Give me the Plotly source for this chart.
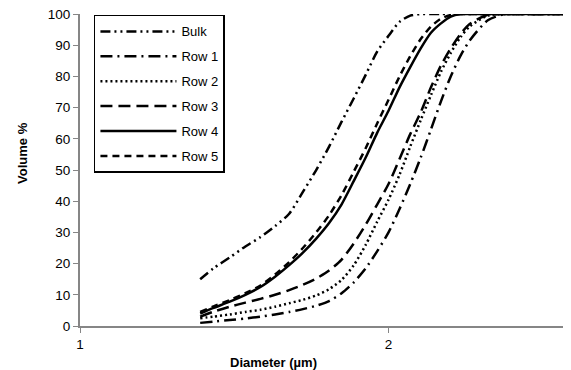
import plotly.graph_objects as go
import math

diameter = [1.31, 1.35, 1.4, 1.45, 1.5, 1.55, 1.6, 1.65, 1.7, 1.75, 1.8, 1.85, 1.9, 1.95,
            2.0, 2.05, 2.1, 2.15, 2.2, 2.25, 2.3, 2.35, 2.4, 2.5, 2.6, 2.8, 3.0]

bulk = [15, 18.5, 22, 25.5, 28.5, 32, 36, 43, 50, 57.5, 65.5, 73, 80.5, 88,
        93, 97.5, 99.5, 100, 100, 100, 100, 100, 100, 100, 100, 100, 100]
row1 = [1, 1.4, 1.9, 2.4, 3, 3.7, 4.5, 5.4, 6.5, 8, 10.5, 14, 18.5, 24,
        30, 37.5, 45.5, 54, 63, 72, 80, 86.5, 91.5, 98, 100, 100, 100]
row2 = [2.5, 3, 3.7, 4.5, 5.2, 6.2, 7.3, 8.4, 9.8, 11.8, 14.8, 19.5, 26, 33.5,
        40.5, 48.5, 57.5, 66, 74, 81.5, 87.5, 92.5, 96, 99.5, 100, 100, 100]
row3 = [3, 4.6, 6.2, 7.5, 8.7, 10, 11.5, 13.2, 15.2, 17.8, 21.3, 26.5, 32.5, 39,
        45.5, 53.5, 61.5, 68.5, 76.5, 83.5, 89, 93.5, 96.8, 99.8, 100, 100, 100]
row4 = [4, 5.8, 7.8, 10, 12.5, 15.8, 19.5, 23.5, 28, 33, 39, 46.5, 54, 62,
        69, 76.5, 83, 89, 94, 97, 99.2, 100, 100, 100, 100, 100, 100]
row5 = [4.5, 6.3, 8.3, 10.5, 13, 16.5, 20.5, 25, 30, 35.5, 42, 49.5, 57, 65,
        72.5, 80, 86.5, 92, 96, 98.5, 99.7, 100, 100, 100, 100, 100, 100]

series_names = ["Bulk", "Row 1", "Row 2", "Row 3", "Row 4", "Row 5"]
series_values = [bulk, row1, row2, row3, row4, row5]
dashes = ["10px,4px,2px,4px,2px,4px", "12px,5px,2px,5px", "2px,3px", "12px,6px", "solid", "7px,5px"]

x_tickvals = [1, 2]
x_ticktext = ["1", "2"]
y_tickvals = [0, 10, 20, 30, 40, 50, 60, 70, 80, 90, 100]

fig = go.Figure()
for name, vals, dash in zip(series_names, series_values, dashes):
    fig.add_trace(go.Scatter(x=diameter, y=vals, mode="lines", name=name,
                             legendgroup=name,
                             line=dict(color="black", width=2.5, dash=dash,
                                       shape="spline", smoothing=0.7)))

font = "Liberation Sans, Arial, sans-serif"
# page body has an 8px default margin, so the figure is sized 8px smaller
fig.update_layout(
    width=563, height=362,
    margin=dict(l=72, r=2, t=6, b=44),
    paper_bgcolor="white", plot_bgcolor="white",
    font=dict(family=font, size=13, color="black"),
    showlegend=True,
    legend=dict(x=0.0285, y=0.997, xanchor="left", yanchor="top",
                bordercolor="black", borderwidth=1.5, bgcolor="white",
                font=dict(size=13), tracegroupgap=5, itemwidth=76),
    xaxis=dict(type="log", range=[0, math.log10(3.0)], tickvals=x_tickvals, ticktext=x_ticktext,
               showline=True, linecolor="#868686", linewidth=2, ticks="outside", ticklen=5,
               tickcolor="#868686", showgrid=False, zeroline=False, automargin=False,
               tickfont=dict(size=13.5), ticklabeloverflow="allow"),
    yaxis=dict(range=[0, 100.01], tickvals=y_tickvals, showline=True, linecolor="#868686",
               linewidth=2, ticks="outside", ticklen=5, tickcolor="#868686",
               showgrid=False, zeroline=False, automargin=False, tickfont=dict(size=13.5),
               ticklabeloverflow="allow"),
    annotations=[
        dict(text="<b>Diameter (µm)</b>", xref="paper", yref="paper", x=0.395, y=-0.118,
             xanchor="center", yanchor="middle", showarrow=False, font=dict(size=13)),
        dict(text="<b>Volume %</b>", xref="paper", yref="paper", x=-0.119, y=0.554,
             xanchor="center", yanchor="middle", showarrow=False, textangle=-90,
             font=dict(size=13)),
    ],
)

fig.write_html("out.html")
